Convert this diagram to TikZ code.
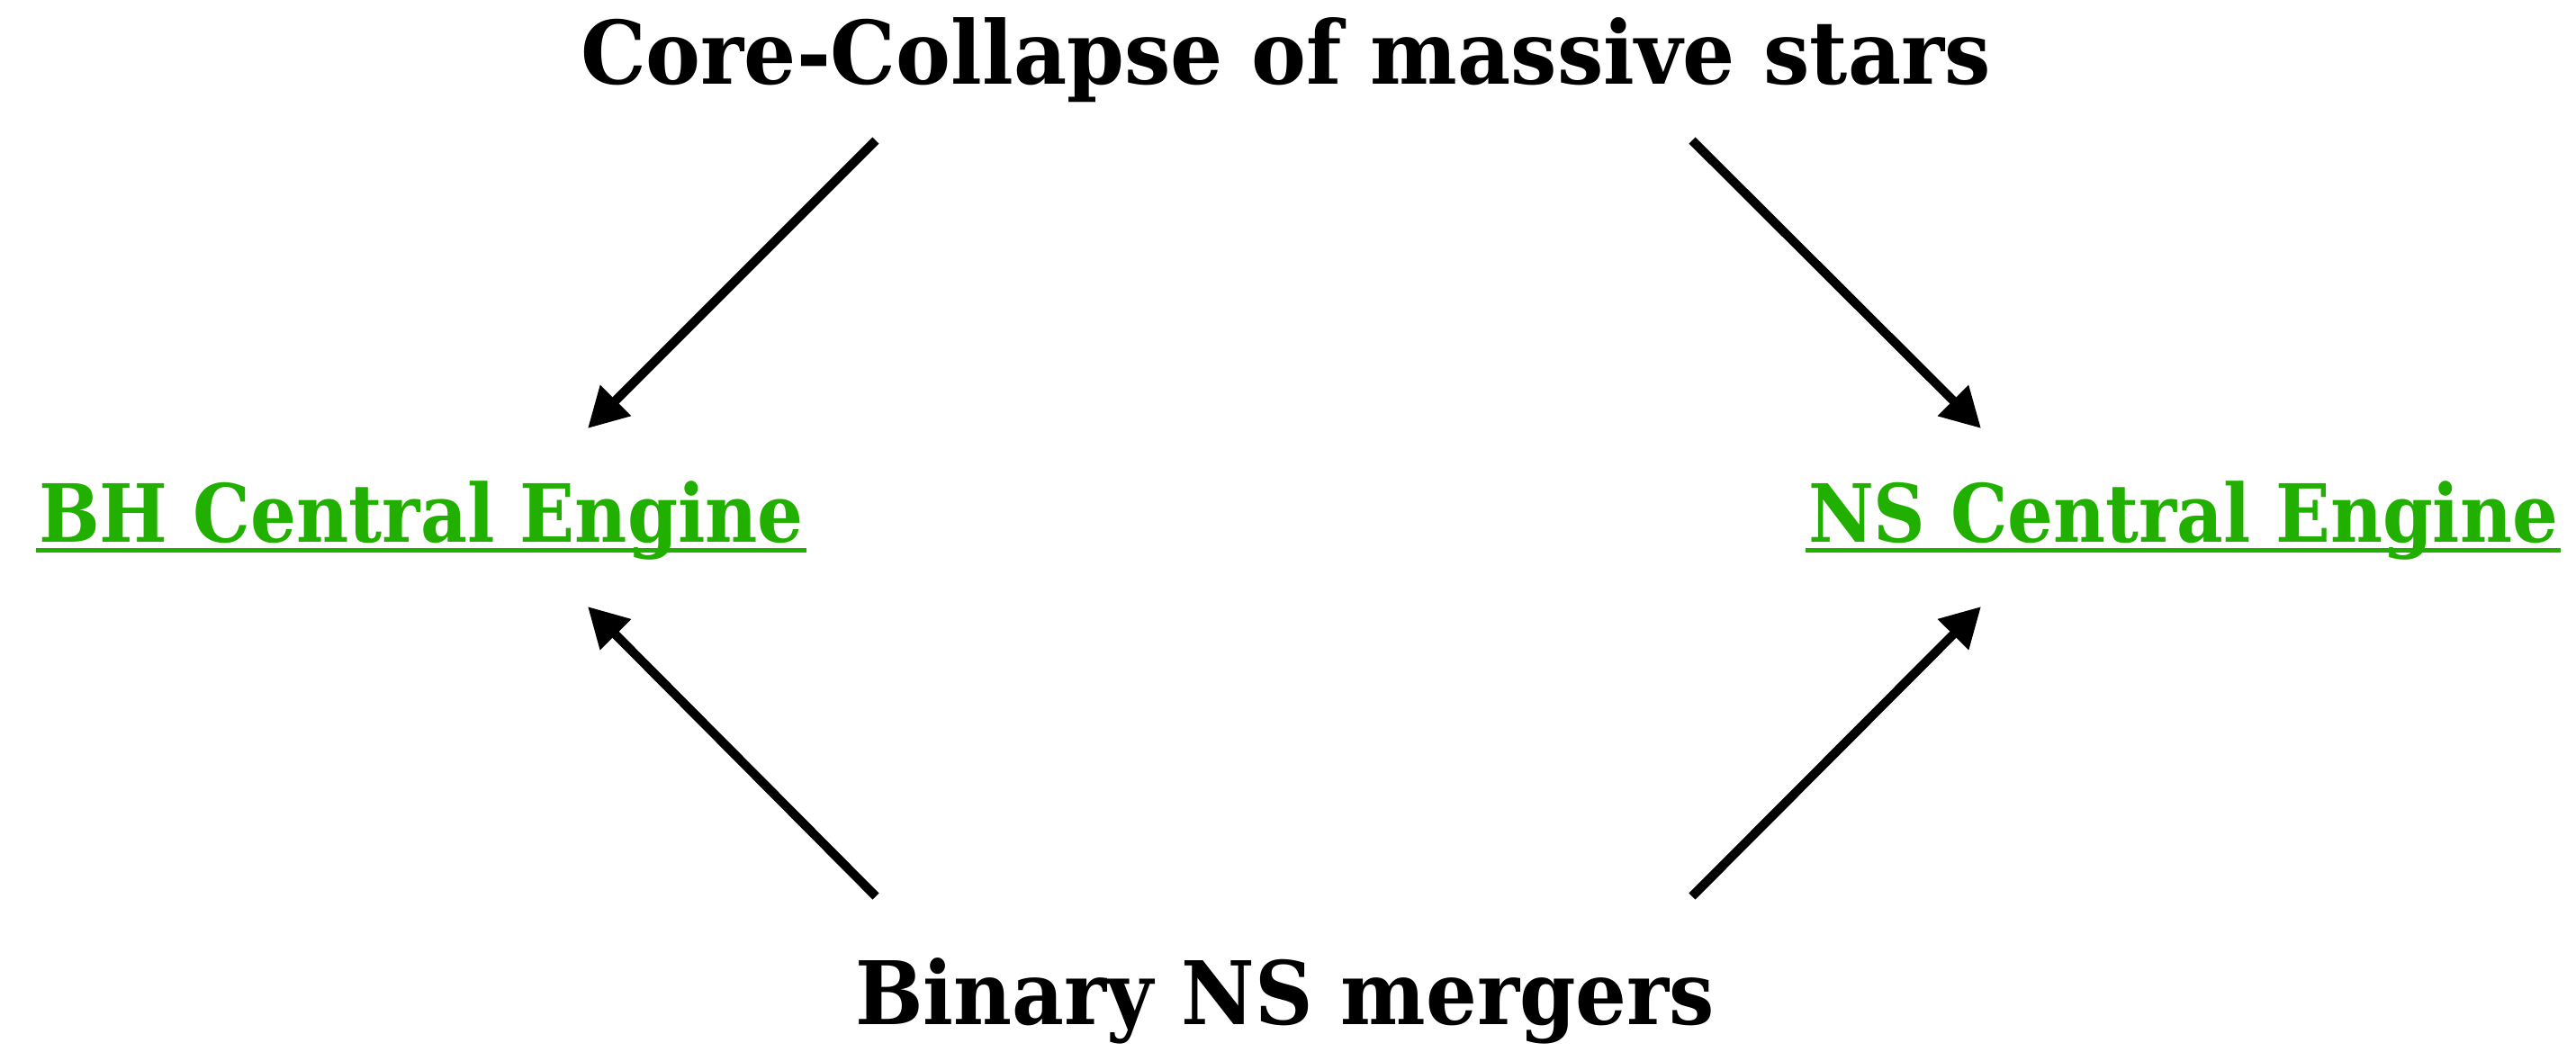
\documentclass[tikz,border=0pt]{standalone}
\usepackage{fontspec}
\setmainfont{DejaVu Serif}
\usetikzlibrary{arrows.meta}
\definecolor{enginegreen}{RGB}{33,175,0}
\tikzset{
  lbl/.style={inner sep=0pt, outer sep=0pt, anchor=base west},
  flow/.style={line width=0.10cm, -{Triangle[length=0.44cm, width=0.46cm]}},
  uline/.style={enginegreen, line width=0.05cm}
}
% bold label at a given size, stretched sideways to a given width
\newcommand\fitlabel[3]{\resizebox{#1}{\height}{\fontsize{#2}{#2}\selectfont\bfseries #3}}
\begin{document}
\begin{tikzpicture}
\useasboundingbox (0,0) rectangle (28.62,-11.68);
% sources and engines
\node[lbl] (cc) at (6.45,-0.93) {\fitlabel{15.67cm}{27.7pt}{Core-Collapse of massive stars}};
\node[lbl, text=enginegreen] (bh) at (0.43,-6.02) {\fitlabel{8.50cm}{25.4pt}{BH Central Engine}};
\node[lbl, text=enginegreen] (ns) at (20.09,-6.02) {\fitlabel{8.33cm}{25.4pt}{NS Central Engine}};
\node[lbl] (bns) at (9.50,-11.38) {\fitlabel{9.55cm}{27.7pt}{Binary NS mergers}};
% underlines of the engines
\draw[uline] ([xshift=-0.03cm,yshift=-0.09cm]bh.base west) -- ([xshift=0.03cm,yshift=-0.09cm]bh.base east);
\draw[uline] ([xshift=-0.03cm,yshift=-0.09cm]ns.base west) -- ([xshift=0.03cm,yshift=-0.09cm]ns.base east);
% arrow ends
\coordinate (cc-l) at (9.73,-1.56);
\coordinate (cc-r) at (18.80,-1.56);
\coordinate (bns-l) at (9.73,-9.96);
\coordinate (bns-r) at (18.80,-9.96);
\coordinate (bh-t) at (6.53,-4.76);
\coordinate (bh-b) at (6.53,-6.74);
\coordinate (ns-t) at (22.01,-4.76);
\coordinate (ns-b) at (22.01,-6.74);
\draw[flow] (cc-l) -- (bh-t);
\draw[flow] (cc-r) -- (ns-t);
\draw[flow] (bns-l) -- (bh-b);
\draw[flow] (bns-r) -- (ns-b);
\end{tikzpicture}
\end{document}
